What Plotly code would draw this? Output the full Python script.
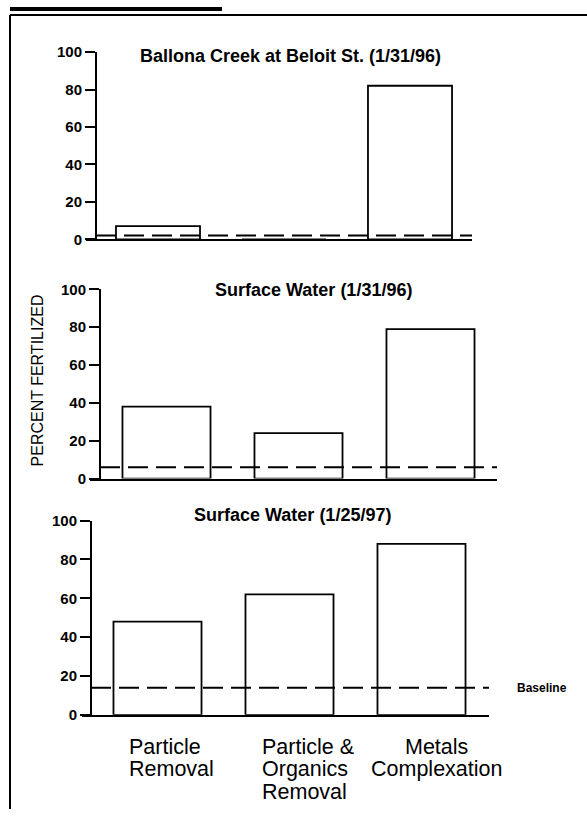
import plotly.graph_objects as go

W, H = 587, 817

categories = ["Particle Removal", "Particle & Organics Removal", "Metals Complexation"]
cat_label_lines = [["Particle", "Removal"], ["Particle &", "Organics", "Removal"], ["Metals", "Complexation"]]
titles = ["Ballona Creek at Beloit St. (1/31/96)", "Surface Water (1/31/96)", "Surface Water (1/25/97)"]
values_p1 = [7, 0, 82]
values_p2 = [38, 24, 79]
values_p3 = [48, 62, 88]
baselines = [2, 6, 14]
y_ticks = [0, 20, 40, 60, 80, 100]

all_values = [values_p1, values_p2, values_p3]

# panel geometry in target-picture pixels (layout only)
panels = [
    dict(yax=96, y0=238, y100=51, xl=86, xr=472, c0=158, step=126, tx=290, ty=55),
    dict(yax=100, y0=477, y100=288, xl=90, xr=497, c0=166.5, step=132, tx=313, ty=289),
    dict(yax=91, y0=713, y100=519, xl=82, xr=489, c0=157.5, step=132, tx=292, ty=513),
]
# category label placement (layout only): x position, anchor
label_pos = [(127, "left"), (260, "left"), (436, "center")]
label_line_y0, label_line_dy = 745, 22.5

# observed vertical mapping of the rendered page: shown_y = V_OFF + V_SCALE * fig_y
V_OFF, V_SCALE = 8.0, 0.978

def px(x):
    return x / W

def py(y):
    return 1 - ((y - V_OFF) / V_SCALE) / H

FONT = "Liberation Sans, Arial, sans-serif"
fig = go.Figure()
layout = dict(
    width=W, height=H, margin=dict(l=0, r=0, t=0, b=0),
    paper_bgcolor="white", plot_bgcolor="white", showlegend=False,
    font=dict(family=FONT, color="black"),
)
shapes = []
annotations = []
xidx = list(range(len(categories)))

for i, (p, vals) in enumerate(zip(panels, all_values)):
    n = "" if i == 0 else str(i + 1)
    xa, ya = "x" + n, "y" + n
    fig.add_trace(go.Bar(
        x=xidx, y=vals, width=0.667, xaxis=xa, yaxis=ya,
        marker=dict(color="white", line=dict(color="black", width=1.8)),
        hoverinfo="skip",
    ))
    xr0 = (p["xl"] - p["c0"]) / p["step"]
    xr1 = (p["xr"] - p["c0"]) / p["step"]
    layout["xaxis" + n] = dict(
        domain=[px(p["xl"]), px(p["xr"])], range=[xr0, xr1], anchor=ya,
        showline=True, linecolor="black", linewidth=2, ticks="",
        showticklabels=False, showgrid=False, zeroline=False, fixedrange=True,
    )
    layout["yaxis" + n] = dict(
        domain=[py(p["y0"]), py(p["y100"])], range=[0, 100], anchor="free",
        position=px(p["yax"]),
        showline=True, linecolor="black", linewidth=2,
        ticks="outside", ticklen=10, tickwidth=2, tickcolor="black",
        tickvals=y_ticks, ticktext=[f"<b>{t}</b>" for t in y_ticks],
        tickfont=dict(size=15, family=FONT),
        showgrid=False, zeroline=False, fixedrange=True,
    )
    shapes.append(dict(
        type="line", xref=xa + " domain", x0=(p["yax"] - p["xl"]) / (p["xr"] - p["xl"]), x1=1,
        yref=ya, y0=baselines[i], y1=baselines[i], layer="above",
        line=dict(color="black", width=2, dash="20px,8px"),
    ))
    annotations.append(dict(
        text="<b>" + titles[i] + "</b>", xref="paper", yref="paper",
        x=px(p["tx"]), y=py(p["ty"]), xanchor="center", yanchor="middle",
        showarrow=False, font=dict(size=18),
    ))

# category labels under bottom panel (one annotation per text line)
for j, lines in enumerate(cat_label_lines):
    lx, anchor = label_pos[j]
    for k, line in enumerate(lines):
        annotations.append(dict(
            text=line, xref="paper", yref="paper", x=px(lx),
            y=py(label_line_y0 + k * label_line_dy),
            xanchor=anchor, yanchor="middle", showarrow=False,
            font=dict(size=21.5),
        ))

annotations.append(dict(
    text="<b>Baseline</b>", xref="paper", yref="y3", x=px(515), y=baselines[2],
    xanchor="left", yanchor="middle", showarrow=False, font=dict(size=12),
))
annotations.append(dict(
    text="PERCENT FERTILIZED", xref="paper", yref="paper", x=px(37), y=py(379),
    xanchor="center", yanchor="middle", textangle=-90, showarrow=False,
    font=dict(size=16),
))

# outer frame decorations
shapes.append(dict(type="line", xref="paper", yref="paper", x0=px(10), x1=px(10), y0=py(14), y1=0,
                   line=dict(color="black", width=2)))
shapes.append(dict(type="line", xref="paper", yref="paper", x0=px(10), x1=1, y0=py(14), y1=py(14),
                   line=dict(color="black", width=2)))
shapes.append(dict(type="line", xref="paper", yref="paper", x0=px(10), x1=px(222), y0=1, y1=1,
                   line=dict(color="black", width=4)))

layout["shapes"] = shapes
layout["annotations"] = annotations
fig.update_layout(**layout)

page_fix = (
    "var d=document.documentElement,b=document.body;"
    "d.style.margin='0';d.style.padding='0';b.style.margin='0';b.style.padding='0';"
    "d.style.overflow='hidden';b.style.overflow='hidden';"
)
fig.write_html("out.html", config={"displayModeBar": False}, post_script=page_fix)
